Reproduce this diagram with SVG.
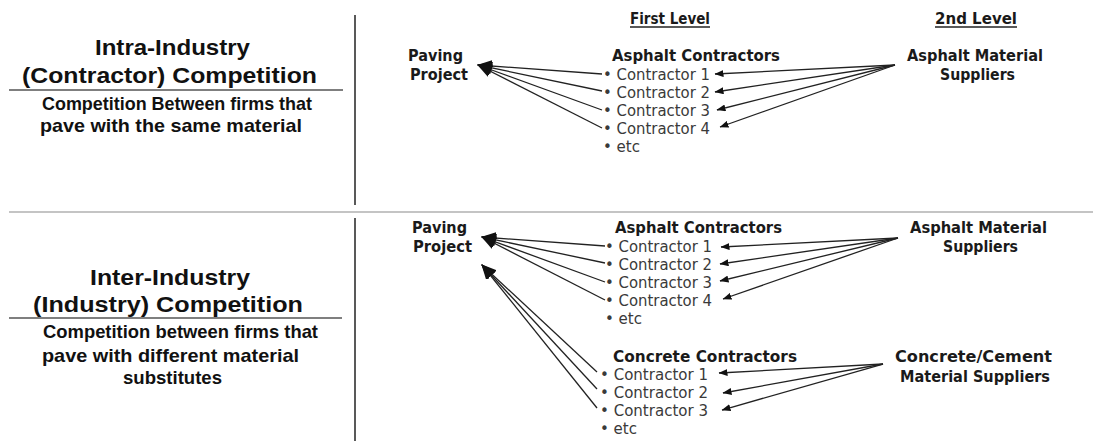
<svg xmlns="http://www.w3.org/2000/svg" width="1093" height="441" viewBox="0 0 1093 441">
<style>
.ttl{font-family:"Liberation Sans",Arial,sans-serif;font-weight:bold;font-size:22.5px;fill:#111}
.sub{font-family:"Liberation Sans",Arial,sans-serif;font-weight:bold;font-size:18.5px;fill:#111}
.lbl{font-family:"DejaVu Sans","Noto Sans",sans-serif;font-weight:bold;font-size:16px;fill:#1a1a1a}
.itm{font-family:"DejaVu Sans","Noto Sans",sans-serif;font-size:15px;fill:#3a3a3a}
.rule{stroke:#555;stroke-width:1.5}
.big{fill:none;stroke:#222;stroke-width:1.3;marker-end:url(#bigHead)}
.sml{fill:none;stroke:#222;stroke-width:1.3;marker-end:url(#smlHead)}
</style>
<defs>
<marker id="bigHead" markerUnits="userSpaceOnUse" markerWidth="15" markerHeight="12" refX="14" refY="6" orient="auto"><path d="M0,0 L15,6 L0,12 Z" fill="#111"/></marker>
<marker id="smlHead" markerUnits="userSpaceOnUse" markerWidth="9" markerHeight="7" refX="8.5" refY="3.5" orient="auto"><path d="M0,0 L9,3.5 L0,7 Z" fill="#111"/></marker>
</defs>
<rect width="1093" height="441" fill="#fff"/>

<g id="dividers">
<line x1="355" y1="15" x2="355" y2="205" stroke="#595959" stroke-width="2"/>
<line x1="355" y1="218" x2="355" y2="441" stroke="#595959" stroke-width="2"/>
<line x1="9" y1="212" x2="1093" y2="212" stroke="#c4c4c4" stroke-width="2"/>
</g>

<g id="intra-title">
<text class="ttl" x="95" y="55" textLength="155" lengthAdjust="spacingAndGlyphs">Intra-Industry</text>
<text class="ttl" x="22" y="83" textLength="295" lengthAdjust="spacingAndGlyphs">(Contractor) Competition</text>
<line class="rule" x1="9" y1="90" x2="343" y2="90"/>
<text class="sub" x="42" y="110" textLength="270" lengthAdjust="spacingAndGlyphs">Competition Between firms that</text>
<text class="sub" x="40" y="132" textLength="262" lengthAdjust="spacingAndGlyphs">pave with the same material</text>
</g>

<g id="inter-title">
<text class="ttl" x="90" y="285" textLength="160" lengthAdjust="spacingAndGlyphs">Inter-Industry</text>
<text class="ttl" x="33" y="312" textLength="270" lengthAdjust="spacingAndGlyphs">(Industry) Competition</text>
<line class="rule" x1="9" y1="318" x2="342" y2="318"/>
<text class="sub" x="43" y="338" textLength="275" lengthAdjust="spacingAndGlyphs">Competition between firms that</text>
<text class="sub" x="42" y="362" textLength="257" lengthAdjust="spacingAndGlyphs">pave with different material</text>
<text class="sub" x="123" y="384" textLength="99" lengthAdjust="spacingAndGlyphs">substitutes</text>
</g>

<g id="level-headers">
<text class="lbl" x="630" y="24" textLength="80" lengthAdjust="spacingAndGlyphs">First Level</text>
<line x1="630" y1="27" x2="710" y2="27" stroke="#222" stroke-width="1.3"/>
<text class="lbl" x="935" y="24" textLength="82" lengthAdjust="spacingAndGlyphs">2nd Level</text>
<line x1="935" y1="27" x2="1017" y2="27" stroke="#222" stroke-width="1.3"/>
</g>

<g id="paving-project-1">
<text class="lbl" x="408" y="61" textLength="55" lengthAdjust="spacingAndGlyphs">Paving</text>
<text class="lbl" x="410" y="80" textLength="58" lengthAdjust="spacingAndGlyphs">Project</text>
</g>

<g id="asphalt-contractors-1">
<text class="lbl" x="612" y="61" textLength="168" lengthAdjust="spacingAndGlyphs">Asphalt Contractors</text>
<text class="itm" x="603" y="80" textLength="107" lengthAdjust="spacingAndGlyphs">• Contractor 1</text>
<text class="itm" x="603" y="98" textLength="107" lengthAdjust="spacingAndGlyphs">• Contractor 2</text>
<text class="itm" x="603" y="116" textLength="107" lengthAdjust="spacingAndGlyphs">• Contractor 3</text>
<text class="itm" x="603" y="134" textLength="107" lengthAdjust="spacingAndGlyphs">• Contractor 4</text>
<text class="itm" x="603" y="152">• etc</text>
</g>

<g id="asphalt-suppliers-1">
<text class="lbl" x="907" y="61" textLength="136" lengthAdjust="spacingAndGlyphs">Asphalt Material</text>
<text class="lbl" x="940" y="80" textLength="75" lengthAdjust="spacingAndGlyphs">Suppliers</text>
</g>

<g id="paving-project-2">
<text class="lbl" x="412" y="233" textLength="55" lengthAdjust="spacingAndGlyphs">Paving</text>
<text class="lbl" x="413" y="252" textLength="59" lengthAdjust="spacingAndGlyphs">Project</text>
</g>

<g id="asphalt-contractors-2">
<text class="lbl" x="615" y="233" textLength="167" lengthAdjust="spacingAndGlyphs">Asphalt Contractors</text>
<text class="itm" x="605" y="252" textLength="107" lengthAdjust="spacingAndGlyphs">• Contractor 1</text>
<text class="itm" x="605" y="270" textLength="107" lengthAdjust="spacingAndGlyphs">• Contractor 2</text>
<text class="itm" x="605" y="288" textLength="107" lengthAdjust="spacingAndGlyphs">• Contractor 3</text>
<text class="itm" x="605" y="306" textLength="107" lengthAdjust="spacingAndGlyphs">• Contractor 4</text>
<text class="itm" x="605" y="324">• etc</text>
</g>

<g id="concrete-contractors">
<text class="lbl" x="613" y="362" textLength="184" lengthAdjust="spacingAndGlyphs">Concrete Contractors</text>
<text class="itm" x="600" y="380" textLength="108" lengthAdjust="spacingAndGlyphs">• Contractor 1</text>
<text class="itm" x="600" y="398" textLength="108" lengthAdjust="spacingAndGlyphs">• Contractor 2</text>
<text class="itm" x="600" y="416" textLength="108" lengthAdjust="spacingAndGlyphs">• Contractor 3</text>
<text class="itm" x="600" y="434">• etc</text>
</g>

<g id="asphalt-suppliers-2">
<text class="lbl" x="910" y="233" textLength="137" lengthAdjust="spacingAndGlyphs">Asphalt Material</text>
<text class="lbl" x="943" y="252" textLength="75" lengthAdjust="spacingAndGlyphs">Suppliers</text>
</g>

<g id="concrete-suppliers">
<text class="lbl" x="895" y="362" textLength="157" lengthAdjust="spacingAndGlyphs">Concrete/Cement</text>
<text class="lbl" x="900" y="382" textLength="150" lengthAdjust="spacingAndGlyphs">Material Suppliers</text>
</g>

<g id="connectors">
<path class="big" d="M602,74 L478,65"/>
<path class="big" d="M602,91 L478,65"/>
<path class="big" d="M602,110 L478,65"/>
<path class="big" d="M602,128 L478,65"/>
<path class="sml" d="M895,65 L715,74"/>
<path class="sml" d="M895,65 L715,92"/>
<path class="sml" d="M895,65 L717,110"/>
<path class="sml" d="M895,65 L720,127"/>

<path class="big" d="M605,246 L482,237"/>
<path class="big" d="M605,263 L482,237"/>
<path class="big" d="M605,282 L482,237"/>
<path class="big" d="M605,300 L482,237"/>
<path class="big" d="M597,372 L482,265"/>
<path class="big" d="M597,389 L482,265"/>
<path class="big" d="M597,408 L482,265"/>
<path class="sml" d="M898,238 L721,247"/>
<path class="sml" d="M898,238 L720,264"/>
<path class="sml" d="M898,238 L720,281"/>
<path class="sml" d="M898,238 L723,299"/>
<path class="sml" d="M883,364 L719,373"/>
<path class="sml" d="M883,364 L723,393"/>
<path class="sml" d="M883,364 L722,410"/>
</g>
</svg>
